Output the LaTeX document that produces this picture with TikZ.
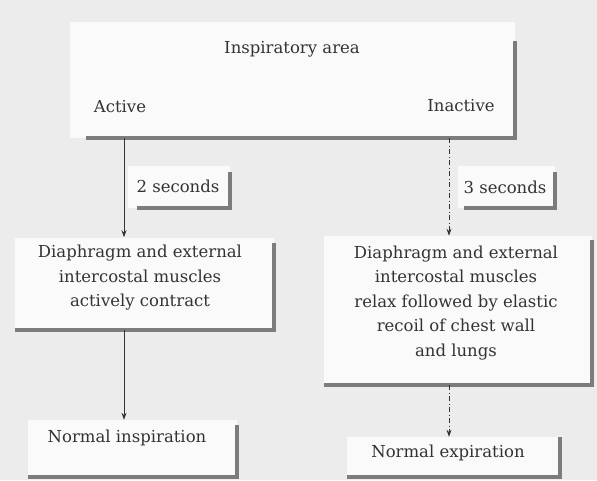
\documentclass[tikz,border=0pt]{standalone}
\usepackage{fontspec}
\setmainfont{DejaVu Serif}
\usepackage{tikz}
\usetikzlibrary{arrows.meta}
\usetikzlibrary{calc}
\definecolor{paper}{HTML}{ECECEC}
\definecolor{card}{HTML}{FAFAFA}
\definecolor{rule}{HTML}{7C7C7C}
\definecolor{ink}{HTML}{333333}

\begin{document}
\begin{tikzpicture}[x=1pt, y=-1pt, font=\fontsize{16.5}{24.5}\selectfont, text=ink,
  lbl/.style={inner sep=0pt, align=center},
  shade/.style={draw=rule, line width=3.2pt},
  flow/.style={draw=ink, line width=0.9pt, -{Stealth[length=7pt, width=5pt]}},
  idle/.style={flow, dash pattern=on 5pt off 2.5pt on 1pt off 2.5pt}]
\useasboundingbox (0,0) rectangle (597,480);
\fill[paper] (0,0) rectangle (597,480);

\fill[card] (70,22) rectangle (515,138);
\draw[shade] (515,41) -- (515,138) -- (86,138);
\node[lbl] (insp) at (292,49) {Inspiratory area};
\node[lbl] (act) at (120,107) {Active};
\node[lbl] (inact) at (461,106) {Inactive};
\coordinate (actout) at (124,138);
\coordinate (inactout) at (449,138);

\fill[card] (128,166) rectangle (230,208);
\draw[shade] (230,172) -- (230,208) -- (137,208);
\node[lbl] (two) at (178,186) {2 seconds};
\fill[card] (458,166) rectangle (555,208);
\draw[shade] (555,172) -- (555,208) -- (464,208);
\node[lbl] (three) at (505,187) {3 seconds};

\fill[card] (15,238) rectangle (274,330);
\draw[shade] (274,243) -- (274,330) -- (15,330);
\node[lbl] (contract) at (140,278) {Diaphragm and external\\ intercostal muscles\\ actively contract};
\coordinate (contractout) at (124,330);

\fill[card] (324,236) rectangle (592,385);
\draw[shade] (592,240) -- (592,385) -- (324,385);
\node[lbl] (relax) at (456,303) {Diaphragm and external\\ intercostal muscles\\ relax followed by elastic\\ recoil of chest wall\\ and lungs};
\coordinate (relaxout) at (449,385);

\fill[card] (28,420) rectangle (237,477);
\draw[shade] (237,425) -- (237,477) -- (28,477);
\node[lbl] (insp2) at (127,438) {Normal inspiration};
\fill[card] (347,437) rectangle (560,477);
\draw[shade] (560,437) -- (560,477) -- (347,477);
\node[lbl] (exp) at (448,453) {Normal expiration};

\draw[flow] (actout) -- ($(contract.north -| actout)+(0,-8)$);
\draw[idle] (inactout) -- ($(relax.north -| inactout)+(0,-10)$);
\draw[flow] (contractout) -- ($(insp2.north -| contractout)+(0,-10)$);
\draw[idle] (relaxout) -- ($(exp.north -| relaxout)+(0,-8)$);
\end{tikzpicture}
\end{document}
